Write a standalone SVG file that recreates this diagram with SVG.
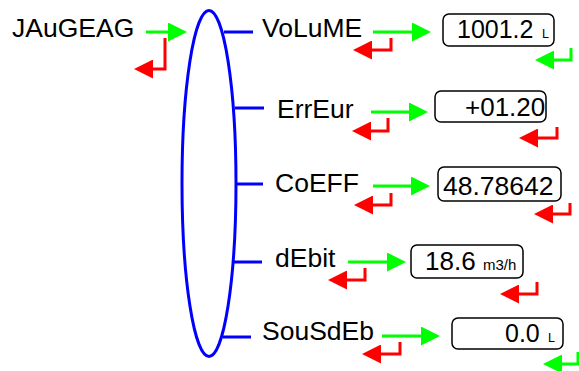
<svg xmlns="http://www.w3.org/2000/svg" width="579" height="371" viewBox="0 0 579 371">
<style>
text{font-family:"Liberation Sans",Arial,sans-serif;fill:#000}
.lbl{font-size:26.5px}
.val{font-size:26px}
.unit{font-size:12.5px}
.box{fill:#fff;stroke:#000;stroke-width:1.5}
.blue{stroke:#0000ff;stroke-width:3;fill:none}
.g{stroke:#00ff00;stroke-width:3;fill:none;marker-end:url(#ag)}
.r{stroke:#ff0000;stroke-width:3;fill:none;marker-end:url(#ar)}
</style>
<defs>
<marker id="ag" markerUnits="userSpaceOnUse" markerWidth="19" markerHeight="19" refX="0" refY="9.5" orient="auto"><path d="M0,0 L19,9.5 L0,19 z" fill="#00ff00"/></marker>
<marker id="ar" markerUnits="userSpaceOnUse" markerWidth="19" markerHeight="19" refX="0" refY="9.5" orient="auto"><path d="M0,0 L19,9.5 L0,19 z" fill="#ff0000"/></marker>
</defs>
<g id="hub"><ellipse class="blue" cx="209" cy="183.5" rx="27" ry="173"/></g>
<g id="connectors">
<line class="blue" x1="224" y1="32" x2="253" y2="32"/>
<line class="blue" x1="235" y1="108" x2="264" y2="108"/>
<line class="blue" x1="236" y1="184" x2="263" y2="184"/>
<line class="blue" x1="234" y1="262" x2="262" y2="262"/>
<line class="blue" x1="223" y1="337" x2="251" y2="337"/>
<line class="g" x1="146" y1="32" x2="168" y2="32"/>
<line class="g" x1="373" y1="32" x2="412" y2="32"/>
<line class="g" x1="371" y1="112" x2="409" y2="112"/>
<line class="g" x1="373" y1="186" x2="411" y2="186"/>
<line class="g" x1="348" y1="262" x2="387" y2="262"/>
<line class="g" x1="382" y1="336" x2="421" y2="336"/>
<path class="r" d="M165,38 V69 H153"/>
<path class="r" d="M391,38 V50 H372"/>
<path class="r" d="M388,118 V131 H371"/>
<path class="r" d="M391,193 V205 H373"/>
<path class="r" d="M365,268 V280 H347"/>
<path class="r" d="M400,342 V354 H381"/>
<path class="g" d="M571,48 V60 H554"/>
<path class="r" d="M557,127 V138 H538"/>
<path class="r" d="M570,203 V214 H553"/>
<path class="r" d="M537,282 V294 H519"/>
<path class="g" d="M578,352 V364 H562"/>
</g>
<g id="jaugeag"><text class="lbl" x="12" y="37">JAuGEAG</text></g>
<g id="volume"><text class="lbl" x="262" y="37">VoLuME</text></g>
<g id="errerur"><text class="lbl" x="277" y="118">ErrEur</text></g>
<g id="coeff"><text class="lbl" x="275" y="192">CoEFF</text></g>
<g id="debit"><text class="lbl" x="275" y="267">dEbit</text></g>
<g id="sousdeb"><text class="lbl" x="262" y="340">SouSdEb</text></g>
<g id="volume-val"><rect class="box" x="443" y="14" width="111" height="32" rx="6"/><text class="val" x="457" y="38" style="font-size:25px">1001.2</text><text class="unit" x="542" y="38">L</text></g>
<g id="errerur-val"><rect class="box" x="435" y="91" width="111" height="31" rx="6"/><text class="val" x="465" y="116">+01.20</text></g>
<g id="coeff-val"><rect class="box" x="438" y="167" width="123" height="34" rx="6"/><text class="val" x="443" y="195" style="font-size:26.5px">48.78642</text></g>
<g id="debit-val"><rect class="box" x="411" y="245" width="112" height="33" rx="6"/><text class="val" x="425" y="270">18.6</text><text x="483" y="270" style="font-size:15px">m3/h</text></g>
<g id="sousdeb-val"><rect class="box" x="452" y="318" width="111" height="31" rx="6"/><text class="val" x="505" y="342" style="font-size:25px">0.0</text><text class="unit" x="548" y="342">L</text></g>
</svg>
